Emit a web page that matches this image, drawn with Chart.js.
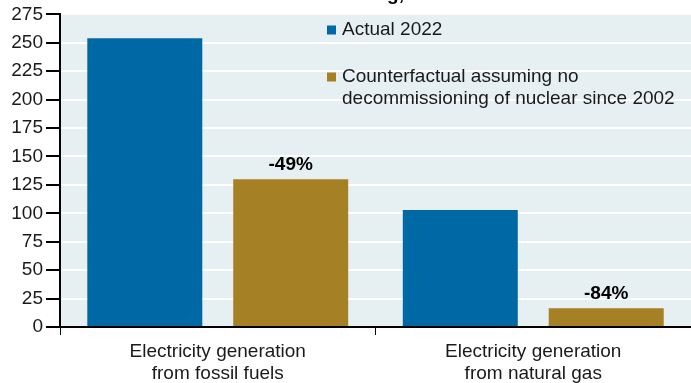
<!DOCTYPE html>
<html>
<head>
<meta charset="utf-8">
<script src="https://cdn.jsdelivr.net/npm/chart.js@4.4.0/dist/chart.umd.min.js"></script>
<style>
  html, body { margin: 0; padding: 0; background: #fff; }
  #wrap { position: relative; width: 691px; height: 383px; }
</style>
</head>
<body>
<div id="wrap"><canvas id="myChart"></canvas></div>
<script>
// data
let categories = [
  ['Electricity generation', 'from fossil fuels'],
  ['Electricity generation', 'from natural gas']
];
let actual2022 = [254, 103];
let counterfactual = [130, 16.5];
let changeLabels = ['-49%', '-84%'];
let seriesNames = ['Actual 2022', 'Counterfactual assuming no\ndecommissioning of nuclear since 2002'];
let yTicks = [0, 25, 50, 75, 100, 125, 150, 175, 200, 225, 250, 275];

let blue = '#0068a5';
let gold = '#a68025';
let plotBg = '#e6eff2';
let fontFamily = 'Arial, "Liberation Sans", sans-serif';

// plot background
const bgPlugin = {
  id: 'plotBg',
  beforeDraw(chart) {
    const { ctx, chartArea } = chart;
    ctx.save();
    ctx.fillStyle = plotBg;
    ctx.fillRect(chartArea.left, chartArea.top, chartArea.right - chartArea.left, chartArea.bottom - chartArea.top);
    ctx.restore();
  }
};

// cut-off title at top edge, legend, and % labels
const extrasPlugin = {
  id: 'extras',
  afterDatasetsDraw(chart) {
    const ctx = chart.ctx;
    ctx.save();

    // title, mostly outside of the picture
    ctx.font = 'bold 19px ' + fontFamily;
    ctx.fillStyle = '#000';
    ctx.textBaseline = 'alphabetic';
    ctx.textAlign = 'right';
    ctx.fillText('Counterfactual without nuclear decommissioning,', 404, 0);

    // change labels over the gold bars
    let meta = chart.getDatasetMeta(1);
    ctx.font = 'bold 19px ' + fontFamily;
    ctx.textAlign = 'center';
    ctx.textBaseline = 'bottom';
    meta.data.forEach(function (bar, i) {
      ctx.fillText(changeLabels[i], bar.x, bar.y - 5);
    });

    // legend
    ctx.font = '19px ' + fontFamily;
    ctx.textAlign = 'left';
    ctx.textBaseline = 'middle';
    let colors = [blue, gold];
    let rowsY = [30, 77];
    for (let i = 0; i < seriesNames.length; i++) {
      ctx.fillStyle = colors[i];
      ctx.fillRect(327, rowsY[i] - 4.5, 9, 9);
      ctx.fillStyle = '#1a1a1a';
      let lines = seriesNames[i].split('\n');
      for (let j = 0; j < lines.length; j++) {
        ctx.fillText(lines[j], 342, rowsY[i] + j * 22);
      }
    }
    ctx.restore();
  }
};

const data = {
  labels: categories,
  datasets: [
    {
      label: seriesNames[0],
      data: actual2022,
      backgroundColor: blue,
      categoryPercentage: 0.925,
      barPercentage: 0.788
    },
    {
      label: seriesNames[1],
      data: counterfactual,
      backgroundColor: gold,
      categoryPercentage: 0.925,
      barPercentage: 0.788
    }
  ]
};

const config = {
  type: 'bar',
  data: data,
  plugins: [bgPlugin, extrasPlugin],
  options: {
    responsive: false,
    animation: false,
    devicePixelRatio: 1,
    layout: { padding: { top: 2, right: 0, left: 0, bottom: 0 } },
    plugins: {
      legend: { display: false },
      tooltip: { enabled: false },
      title: { display: false }
    },
    scales: {
      x: {
        border: { color: '#000', width: 2 },
        grid: { offset: true, drawOnChartArea: false, tickColor: '#000', tickLength: 8, lineWidth: 1 },
        ticks: { color: '#1a1a1a', font: { family: fontFamily, size: 19 }, padding: 5, maxRotation: 0 },
        afterFit(scale) { scale.height = 56; }
      },
      y: {
        min: 0,
        max: 275,
        afterBuildTicks(scale) { scale.ticks = yTicks.map(v => ({ value: v })); },
        border: { color: '#000', width: 2 },
        grid: { color: '#ffffff', lineWidth: 2, tickColor: '#000', tickLength: 14 },
        ticks: { color: '#1a1a1a', font: { family: fontFamily, size: 19 }, padding: 3 },
        afterFit(scale) { scale.width = 60; }
      }
    }
  }
};

const canvas = document.getElementById('myChart');
canvas.width = 691;
canvas.height = 383;
const myChart = new Chart(canvas, config);
</script>
</body>
</html>
